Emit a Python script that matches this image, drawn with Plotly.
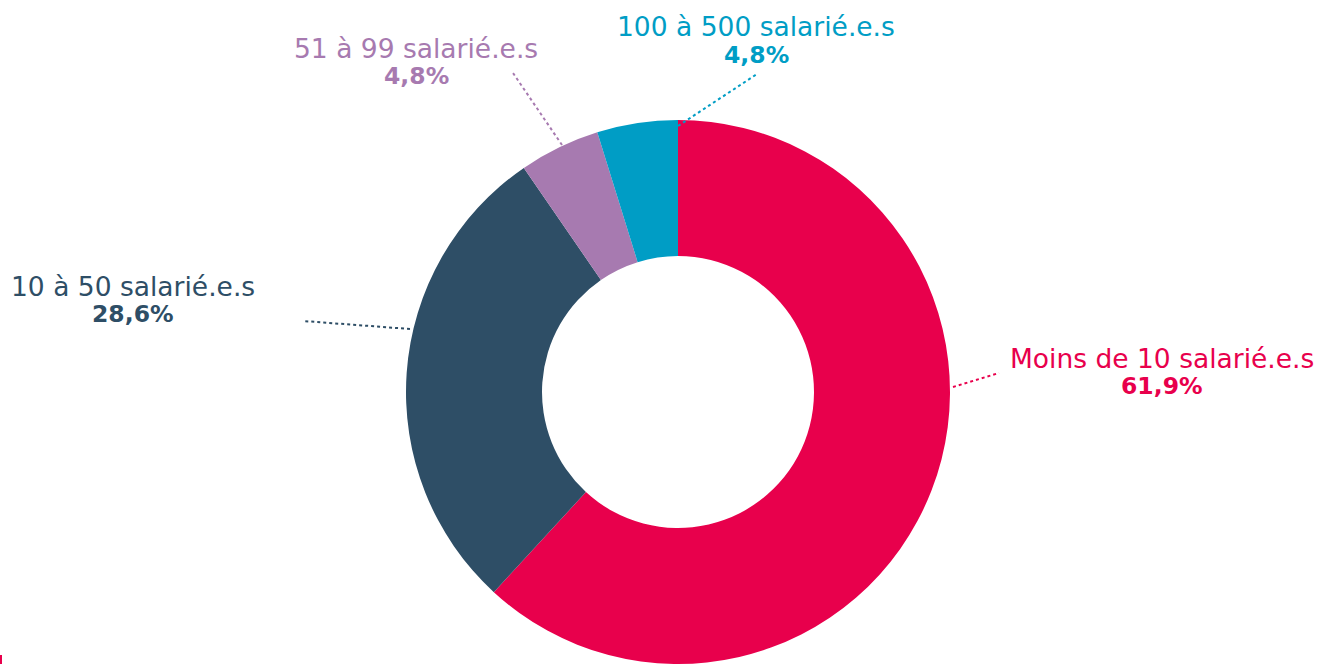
import plotly.graph_objects as go

categories = ["Moins de 10 salarié.e.s", "10 à 50 salarié.e.s", "51 à 99 salarié.e.s", "100 à 500 salarié.e.s"]
values = [61.9, 28.6, 4.8, 4.8]
value_labels = ["61,9%", "28,6%", "4,8%", "4,8%"]
colors = ["#E8004C", "#2E4E66", "#A77AB0", "#009DC5"]

W, H = 1321, 664
FONT = "DejaVu Sans"

def px(x):
    return x / W

def py(y):
    return 1 - y / H

# donut geometry (pixels)
cx, cy, r = 678, 392, 272

fig = go.Figure(go.Pie(
    labels=categories,
    values=values,
    hole=0.5,
    sort=False,
    direction="clockwise",
    rotation=0,
    marker=dict(colors=colors, line=dict(width=0)),
    textinfo="none",
    hoverinfo="label+percent",
    showlegend=False,
    domain=dict(x=[px(cx - r), px(cx + r)], y=[0, (2 * r) / H]),
))

# label positions (name center, value center) in pixels
label_pos = [
    (1162, 358, 386),
    (133, 286, 314),
    (416, 48, 76),
    (756, 27, 55),
]
leader_lines = [
    ((953, 387), (999, 373)),
    ((410, 329), (303, 321)),
    ((562, 145), (513, 73)),
    ((678, 126), (757, 74)),
]

annotations = []
shapes = []
for i, cat in enumerate(categories):
    x, y1, y2 = label_pos[i]
    annotations.append(dict(
        x=px(x), y=py(y1), xref="paper", yref="paper", text=cat,
        showarrow=False, xanchor="center", yanchor="middle", borderpad=0,
        font=dict(family=FONT, size=26.5, color=colors[i]),
    ))
    annotations.append(dict(
        x=px(x), y=py(y2), xref="paper", yref="paper", text="<b>" + value_labels[i] + "</b>",
        showarrow=False, xanchor="center", yanchor="middle", borderpad=0,
        font=dict(family=FONT, size=23.5, color=colors[i]),
    ))
    (x0, y0), (x1, y1_) = leader_lines[i]
    shapes.append(dict(
        type="line", xref="paper", yref="paper",
        x0=px(x0), y0=py(y0), x1=px(x1), y1=py(y1_),
        line=dict(color=colors[i], width=2, dash="dot"),
    ))

# small mark at bottom-left edge
shapes.append(dict(type="line", xref="paper", yref="paper",
                   x0=px(1), y0=0, x1=px(1), y1=9 / H,
                   line=dict(color=colors[0], width=2)))

fig.update_layout(
    width=W, height=H,
    margin=dict(l=0, r=0, t=0, b=0),
    paper_bgcolor="white",
    plot_bgcolor="white",
    annotations=annotations,
    shapes=shapes,
)

fig.write_html("out.html")
